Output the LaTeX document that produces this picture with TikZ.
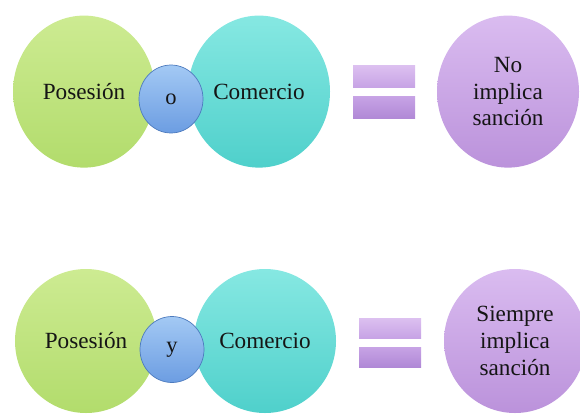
\documentclass[tikz,border=0pt]{standalone}
\usepackage{fontspec}
\setmainfont{Liberation Serif}
\usepackage{tikz}
\usetikzlibrary{shapes.geometric}
\definecolor{textdark}{HTML}{151515}
\definecolor{limetop}{HTML}{CDEB92}
\definecolor{limebot}{HTML}{B2DC6C}
\definecolor{aquatop}{HTML}{86E8E2}
\definecolor{aquabot}{HTML}{4FD0CB}
\definecolor{lilactop}{HTML}{DABCF0}
\definecolor{lilacbot}{HTML}{BB92DB}
\definecolor{skytop}{HTML}{A3C9F4}
\definecolor{skybot}{HTML}{6C9DE2}
\definecolor{skyline}{HTML}{4D7BBE}
\definecolor{bartop}{HTML}{DCC0F0}
\definecolor{barmid}{HTML}{C7A3E5}
\definecolor{barbot}{HTML}{B088D6}

\begin{document}
\begin{tikzpicture}[auto,
    bigdot/.style={ellipse, minimum width=3.55cm, minimum height=3.6cm, inner sep=0pt,
      align=center, font=\fontsize{16.5}{19}\selectfont, text=textdark},
    tall/.style={minimum height=3.8cm},
    posdot/.style={bigdot, top color=limetop, bottom color=limebot},
    comdot/.style={bigdot, top color=aquatop, bottom color=aquabot},
    resdot/.style={bigdot, top color=lilactop, bottom color=lilacbot},
    linkdot/.style={ellipse, minimum width=1.6cm, minimum height=1.65cm, inner sep=0pt,
      draw=skyline, line width=0.5pt, top color=skytop, bottom color=skybot,
      font=\fontsize{16}{19}\selectfont, text=textdark},
    barup/.style={rectangle, minimum width=1.55cm, minimum height=0.55cm,
      inner sep=0pt, top color=bartop, bottom color=barmid},
    bardown/.style={barup, top color=barmid, bottom color=barbot}]
    \useasboundingbox (0, 0) rectangle (14.5, 10.35);
    \node[posdot, tall] (pa) at (2.1, 8.06) {Posesión};
    \node[comdot, tall] (ca) at (6.475, 8.06) {Comercio};
    \node[linkdot, minimum height=1.7cm] (la) at (4.275, 7.875) {o};
    \node[barup] (ua) at (9.6, 8.4375) {};
    \node[bardown] (da) at (9.6, 7.6625) {};
    \node[resdot, tall] (ra) at (12.7, 8.06) {No\\implica\\sanción};
    \node[posdot] (pb) at (2.15, 1.825) {Posesión};
    \node[comdot] (cb) at (6.625, 1.825) {Comercio};
    \node[linkdot] (lb) at (4.3, 1.6125) {y};
    \node[barup, minimum height=0.5cm] (ub) at (9.75, 2.15) {};
    \node[bardown, minimum height=0.5cm] (db) at (9.75, 1.425) {};
    \node[resdot] (rb) at (12.875, 1.825) {Siempre\\implica\\sanción};
\end{tikzpicture}
\end{document}
